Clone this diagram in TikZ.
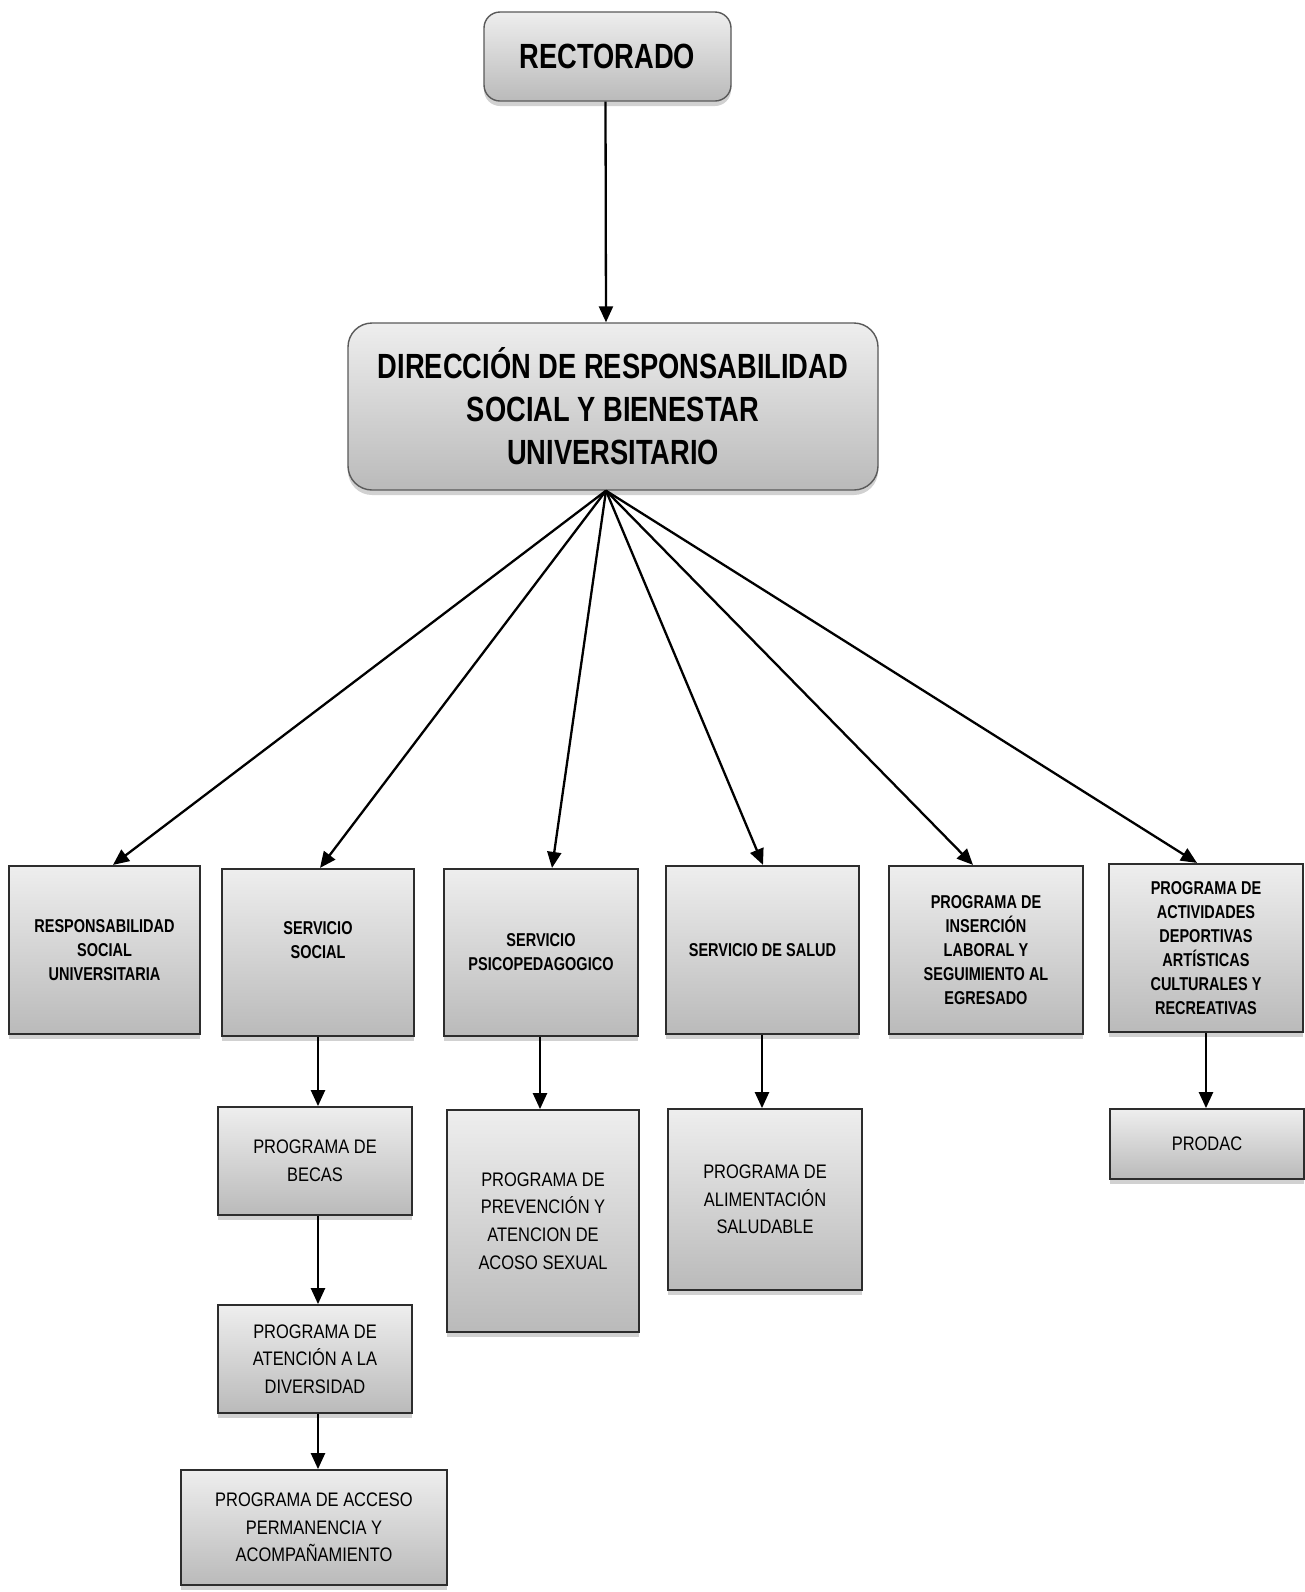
\documentclass[tikz,border=0pt]{standalone}
\usepackage{fontspec}
\setmainfont{Liberation Sans}
\newfontfamily\narrowb{Liberation Sans}[FakeStretch=0.78]
\newfontfamily\narrowr{Liberation Sans}[FakeStretch=0.84]
\usetikzlibrary{arrows.meta,shadows,calc}
\definecolor{gtop}{RGB}{238,238,238}
\definecolor{gbot}{RGB}{186,186,186}
\definecolor{edge}{RGB}{45,45,45}
\tikzset{
  basebox/.style={draw=edge, top color=gtop, bottom color=gbot, align=center, inner sep=0pt,
    drop shadow={shadow xshift=0pt, shadow yshift=-2.5pt, fill=black, opacity=0.18}},
  topbox/.style={basebox, rounded corners=8pt, line width=0.7pt, draw=black!65,
    font=\narrowb\bfseries\fontsize{17.5}{21.5}\selectfont},
  midbox/.style={basebox, line width=1.1pt,
    font=\narrowb\bfseries\fontsize{9.3}{12}\selectfont},
  lowbox/.style={basebox, line width=0.9pt,
    font=\narrowr\fontsize{9.8}{13.8}\selectfont},
  arr/.style={line width=1.15pt, -{Triangle[length=8pt,width=7pt]}}
}
\begin{document}
\begin{tikzpicture}[x=0.5pt,y=-0.5pt]
\useasboundingbox (0,0) rectangle (1305,1592);
% top levels
\node[topbox, minimum width=123.5pt, minimum height=44.5pt] (rect) at (607.5,56.5) {RECTORADO};
\node[topbox, rounded corners=12pt, minimum width=265pt, minimum height=83.5pt] (dir) at (613,406.5)
  {DIRECCIÓN DE RESPONSABILIDAD\\SOCIAL Y BIENESTAR\\UNIVERSITARIO};
% second level
\node[midbox, minimum width=95.5pt, minimum height=84pt] (rsu) at (104.5,950) {RESPONSABILIDAD\\SOCIAL\\UNIVERSITARIA};
\node[midbox, minimum width=96pt, minimum height=83.5pt] (ss) at (318,952.5) {SERVICIO\\SOCIAL\\[0.5pt]};
\node[midbox, minimum width=97pt, minimum height=83.5pt] (psi) at (541,952.5) {SERVICIO\\PSICOPEDAGOGICO};
\node[midbox, minimum width=96.5pt, minimum height=84pt] (sal) at (762.5,950) {SERVICIO DE SALUD};
\node[midbox, minimum width=97pt, minimum height=84pt] (ins) at (986,950) {PROGRAMA DE\\INSERCIÓN\\LABORAL Y\\SEGUIMIENTO AL\\EGRESADO};
\node[midbox, minimum width=97pt, minimum height=84pt] (act) at (1206,948) {PROGRAMA DE\\ACTIVIDADES\\DEPORTIVAS\\ARTÍSTICAS\\CULTURALES Y\\RECREATIVAS};
% third level
\node[lowbox, minimum width=97pt, minimum height=54pt] (bec) at (315,1161) {PROGRAMA DE\\BECAS};
\node[lowbox, minimum width=97pt, minimum height=54pt] (ate) at (315,1359) {PROGRAMA DE\\ATENCIÓN A LA\\DIVERSIDAD};
\node[lowbox, minimum width=133pt, minimum height=57.5pt] (acc) at (314,1527.5) {PROGRAMA DE ACCESO\\PERMANENCIA Y\\ACOMPAÑAMIENTO};
\node[lowbox, minimum width=96pt, minimum height=111pt] (prev) at (543,1221) {PROGRAMA DE\\PREVENCIÓN Y\\ATENCION DE\\ACOSO SEXUAL};
\node[lowbox, minimum width=97pt, minimum height=90.5pt] (alim) at (765,1199.5) {PROGRAMA DE\\ALIMENTACIÓN\\SALUDABLE};
\node[lowbox, minimum width=97pt, minimum height=35pt] (prod) at (1207,1144) {PRODAC};
% connectors
\draw[arr] ($(rect.south)+(-2,0)$) -- ($(dir.north)+(-7,0)$);
\coordinate (hub) at ($(dir.south)+(-7,0)$);
\draw[arr] (hub) -- ($(rsu.north)+(8.5,0)$);
\draw[arr] (hub) -- ($(ss.north)+(2,0)$);
\draw[arr] (hub) -- ($(psi.north)+(11,0)$);
\draw[arr] (hub) -- ($(sal.north)+(0.5,0)$);
\draw[arr] (hub) -- ($(ins.north)+(-13,0)$);
\draw[arr] (hub) -- ($(act.north)+(-9,0)$);
\draw[arr] (ss.south) -- (ss.south |- bec.north);
\draw[arr] (ss.south |- bec.south) -- (ss.south |- ate.north);
\draw[arr] (ss.south |- ate.south) -- (ss.south |- acc.north);
\draw[arr] ($(psi.south)+(-1,0)$) -- ($(psi.south |- prev.north)+(-1,0)$);
\draw[arr] ($(sal.south)+(-0.5,0)$) -- ($(sal.south |- alim.north)+(-0.5,0)$);
\draw[arr] (act.south) -- (act.south |- prod.north);
\end{tikzpicture}
\end{document}
